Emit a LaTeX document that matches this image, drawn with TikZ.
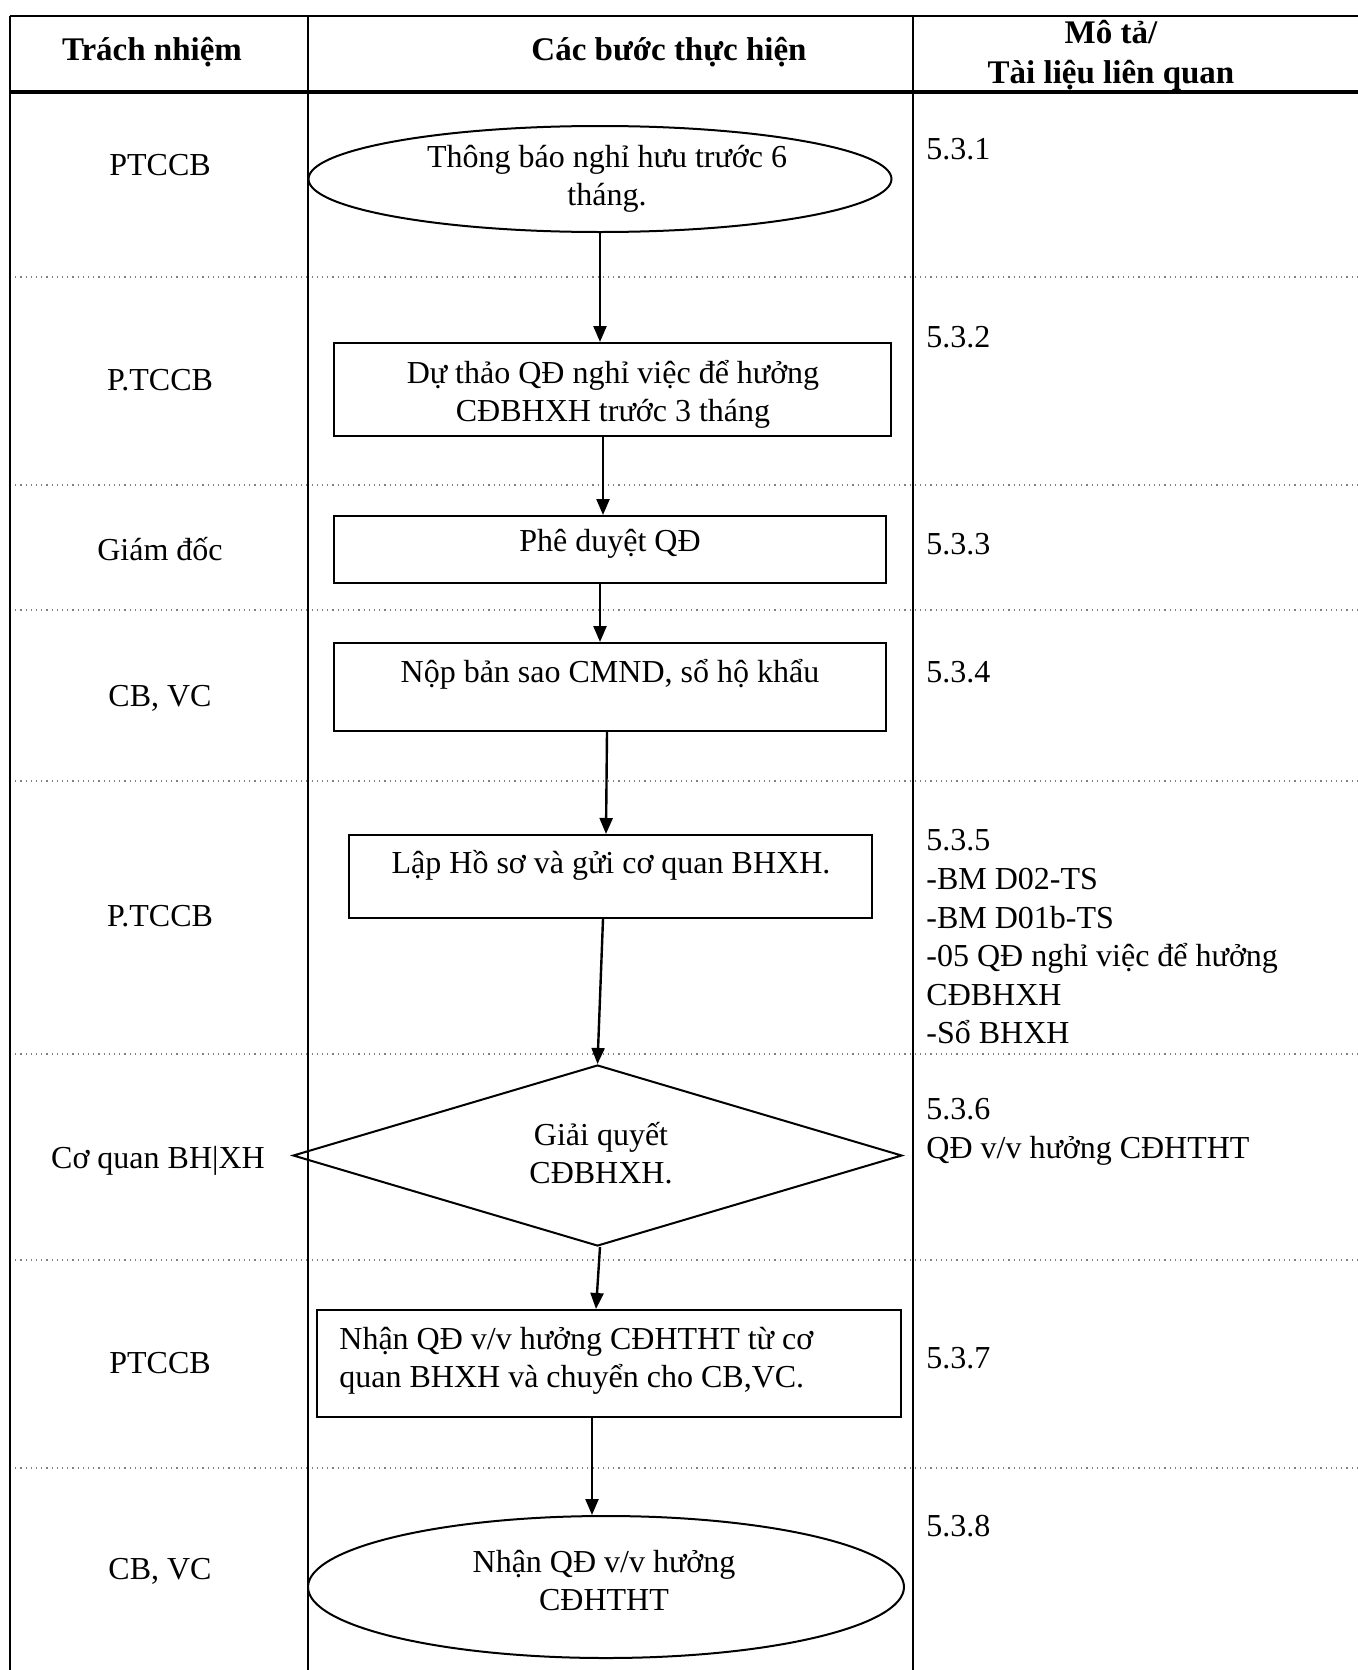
\documentclass[tikz,border=0pt]{standalone}
\usepackage{fontspec}
\setmainfont{Liberation Serif}
\usetikzlibrary{shapes.geometric,arrows.meta,calc}
\begin{document}
\begin{tikzpicture}[x=0.5pt,y=-0.5pt,
  txt/.style={font=\fontsize{16}{19}\selectfont, inner sep=0pt, align=center},
  ltxt/.style={font=\fontsize{16}{19.3}\selectfont, inner sep=0pt, align=left, anchor=west},
  hdr/.style={font=\fontsize{16.5}{20}\selectfont\bfseries, inner sep=0pt, align=center},
  boxs/.style={draw, line width=1pt, rectangle, inner sep=0pt},
  ell/.style={draw, line width=1pt, ellipse, inner sep=0pt},
  dia/.style={draw, line width=1pt, diamond, inner sep=0pt},
  arr/.style={line width=1.2pt, -{Triangle[length=8pt,width=6.5pt]}},
  frame/.style={line width=1pt},
  rowline/.style={gray, dotted, line width=0.6pt}
]
\useasboundingbox (0,0) rectangle (1358,1670);
% row separators
\foreach \y in {277,485,610,781,1054,1260,1468} \draw[rowline] (10,\y) -- (1358,\y);
% frame
\draw[frame] (10,16) -- (1358,16);
\draw[frame] (10,16) -- (10,1670);
\draw[frame] (308,16) -- (308,1670);
\draw[frame] (913,16) -- (913,1670);
\draw[line width=1.8pt] (10,92) -- (1358,92);

% header
\node[hdr] (h1) at (152,52) {Trách nhiệm};
\node[hdr] (h2) at (669,52) {Các bước thực hiện};
\node[hdr] (h3) at (1111,55) {Mô tả/\\Tài liệu liên quan};

% responsibility column
\node[txt] (r1) at (160,165) {PTCCB};
\node[txt] (r2) at (160,380) {P.TCCB};
\node[txt] (r3) at (160,549) {Giám đốc};
\node[txt] (r4) at (160,698) {CB, VC};
\node[txt] (r5) at (160,916) {P.TCCB};
\node[txt] (r6) at (158,1161) {Cơ quan BH|XH};
\node[txt] (r7) at (160,1363) {PTCCB};
\node[txt] (r8) at (160,1571) {CB, VC};

% shapes
\node[ell, minimum width=291.5pt, minimum height=53pt] (s1) at (600,179) {};
\node[boxs, minimum width=278.5pt, minimum height=46.5pt] (s2) at (612.5,389.5) {};
\node[boxs, minimum width=276pt, minimum height=33.5pt] (s3) at (610,549.5) {};
\node[boxs, minimum width=276pt, minimum height=44pt] (s4) at (610,687) {};
\node[boxs, minimum width=261.5pt, minimum height=41.5pt] (s5) at (610.5,876.5) {};
\node[dia, minimum width=304.5pt, minimum height=90.5pt] (s6) at (597.5,1155.5) {};
\node[boxs, minimum width=292pt, minimum height=53.5pt] (s7) at (609,1363.5) {};
\node[ell, minimum width=298pt, minimum height=71pt] (s8) at (606,1587) {};

% shape texts
\node[txt] (t1) at (607,178.5) {Thông báo nghỉ hưu trước 6\\tháng.};
\node[txt] (t2) at (613,394) {Dự thảo QĐ nghỉ việc để hưởng\\CĐBHXH trước 3 tháng};
\node[txt] (t3) at (610,544) {Phê duyệt QĐ};
\node[txt] (t4) at (610,674) {Nộp bản sao CMND, sổ hộ khẩu};
\node[txt] (t5) at (611,865) {Lập Hồ sơ và gửi cơ quan BHXH.};
\node[txt] (t6) at (601,1153) {Giải quyết\\CĐBHXH.};
\node[ltxt] (t7) at (339,1361) {Nhận QĐ v/v hưởng CĐHTHT từ cơ\\quan BHXH và chuyển cho CB,VC.};
\node[txt] (t8) at (604,1581) {Nhận QĐ v/v hưởng\\CĐHTHT};

% description column
\node[ltxt] (d1) at (926,149) {5.3.1};
\node[ltxt] (d2) at (926,337) {5.3.2};
\node[ltxt] (d3) at (926,544) {5.3.3};
\node[ltxt] (d4) at (926,672) {5.3.4};
\node[ltxt] (d5) at (926,937) {5.3.5\\-BM D02-TS\\-BM D01b-TS\\-05 QĐ nghỉ việc để hưởng\\CĐBHXH\\-Sổ BHXH};
\node[ltxt] (d6) at (926,1132) {5.3.6\\QĐ v/v hưởng CĐHTHT};
\node[ltxt] (d7) at (926,1358) {5.3.7};
\node[ltxt] (d8) at (926,1526) {5.3.8};

% connectors
\draw[arr] (s1.south) -- (s1.south |- s2.north);
\draw[arr] ($(s2.south)+(-9.5,0)$) -- ($(s3.north)+(-7,0)$);
\draw[arr] ($(s3.south)+(-10,0)$) -- ($(s4.north)+(-10,0)$);
\draw[arr] ($(s4.south)+(-3,0)$) -- ($(s5.north)+(-4.5,0)$);
\draw[arr] ($(s5.south)+(-7.5,0)$) -- (s6.north);
\draw[arr] ($(s6.south)+(2.5,0)$) -- ($(s7.north)+(-13,0)$);
\draw[arr] ($(s7.south)+(-17,0)$) -- ($(s8.north)+(-14,0)$);
\end{tikzpicture}
\end{document}
